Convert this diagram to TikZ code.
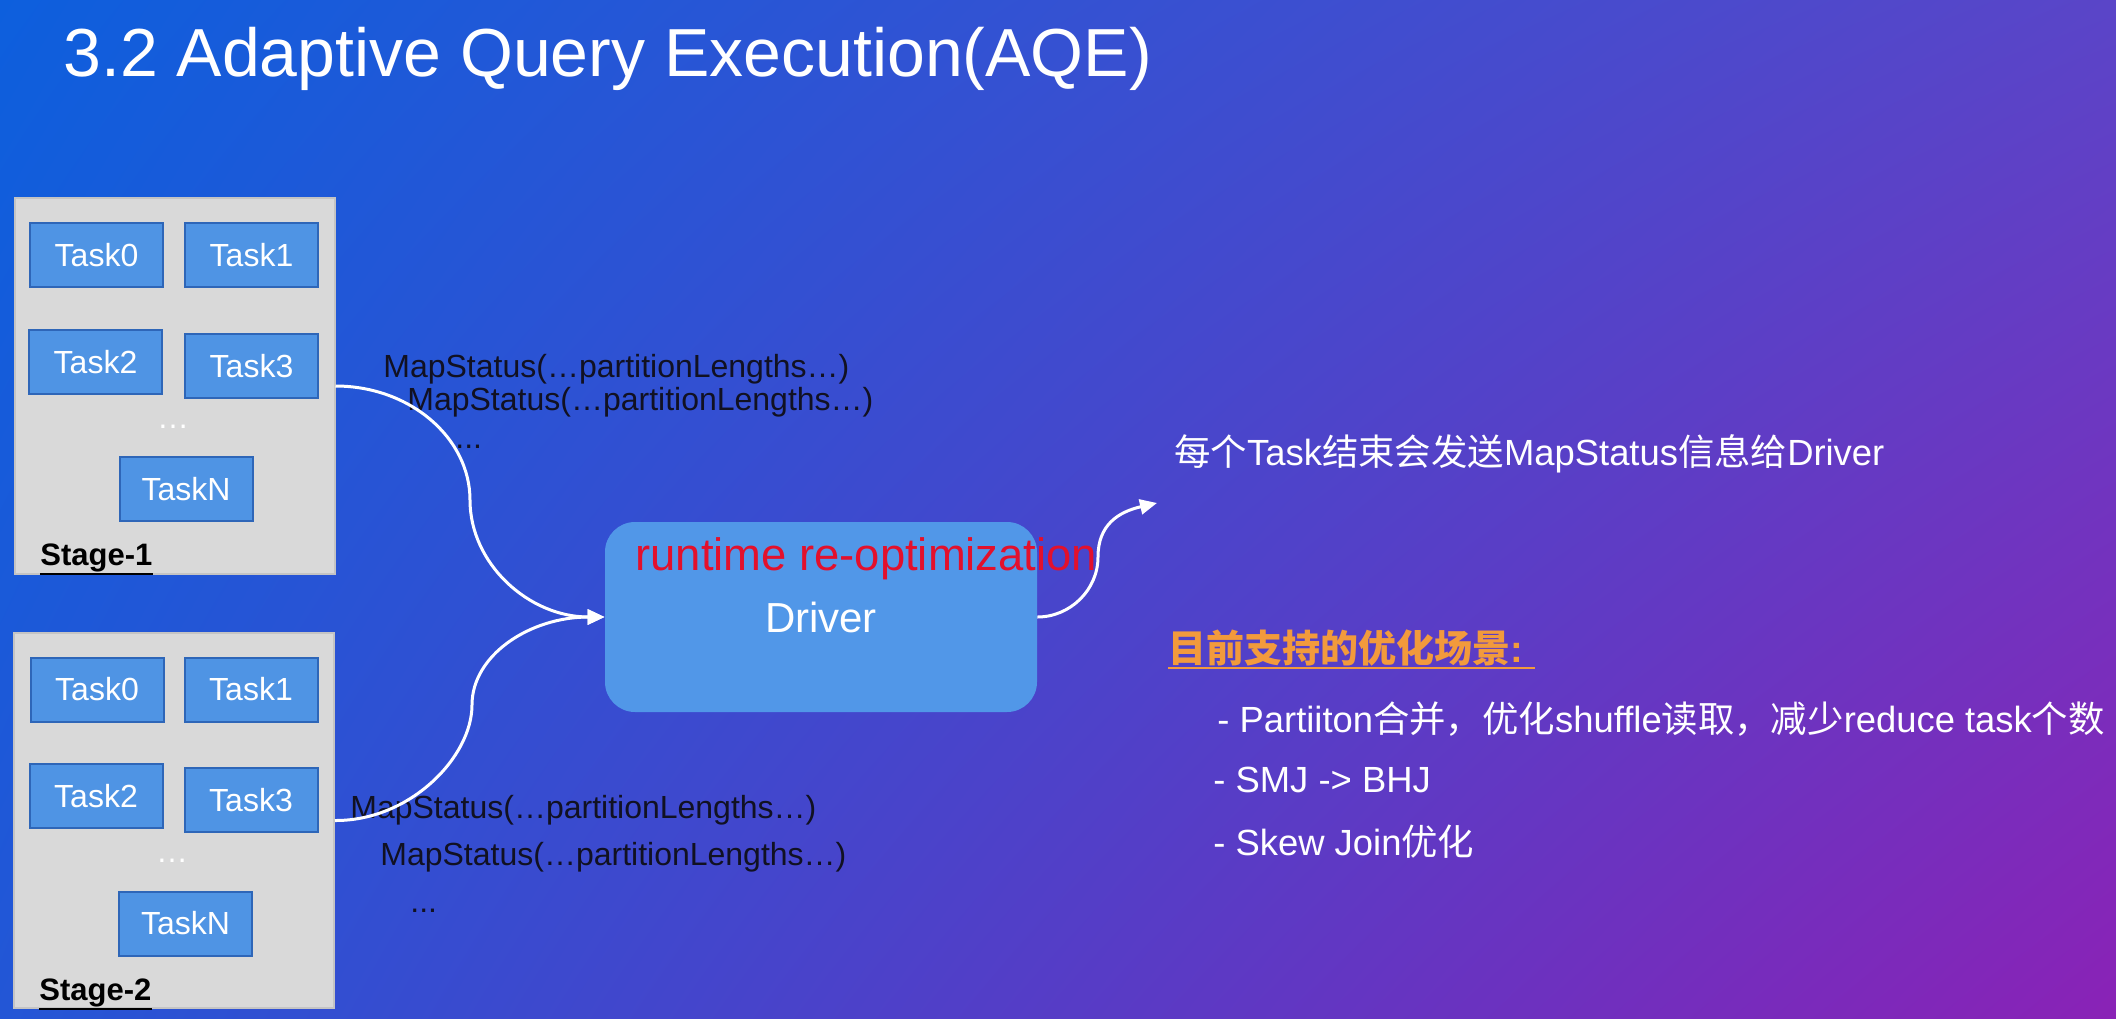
\documentclass[tikz,border=0pt]{standalone}
\usepackage{fontspec}
\setmainfont{Liberation Sans}
\newfontfamily\cjk{Noto Sans CJK SC}
\usetikzlibrary{arrows.meta,shadings}
\definecolor{bgul}{HTML}{0D5FDD}
\definecolor{bgur}{HTML}{5A45C8}
\definecolor{bgll}{HTML}{2356D6}
\definecolor{bglr}{HTML}{8A22B6}
\definecolor{stagefill}{HTML}{D9D9D9}
\definecolor{stageedge}{HTML}{C4C4C4}
\definecolor{taskfill}{HTML}{4F94E4}
\definecolor{taskedge}{HTML}{2E66B8}
\definecolor{drvfill}{HTML}{5197E8}
\definecolor{rtred}{HTML}{E3102C}
\definecolor{headorange}{HTML}{F29A3C}
\definecolor{msblack}{HTML}{111122}
\newcommand\fsz[1]{\fontsize{#1pt}{#1pt}\selectfont}
\begin{document}
\begin{tikzpicture}[x=0.5pt,y=-0.5pt,
  stagebox/.style={draw=stageedge, line width=1pt, fill=stagefill, inner sep=0pt, minimum width=160pt},
  taskbox/.style={draw=taskedge, line width=1pt, fill=taskfill, inner sep=0pt, minimum width=66.5pt, minimum height=32pt, text=white, font=\fsz{16}},
  dotslbl/.style={text=white, font=\fsz{16}, anchor=base, inner sep=0pt},
  stagelbl/.style={font=\fsz{15.5}\bfseries, text=black, anchor=base west, inner sep=0pt},
  ulline/.style={line width=1.3pt},
  mslbl/.style={font=\fsz{16}, text=msblack, anchor=base west, inner sep=0pt},
  drvbox/.style={fill=drvfill, rounded corners=15pt, inner sep=0pt, minimum width=216pt, minimum height=95pt},
  rtlbl/.style={font=\fsz{22.7}, text=rtred, anchor=base west, inner sep=0pt},
  drvlbl/.style={font=\fsz{21}, text=white, anchor=base, inner sep=0pt},
  rtext/.style={font=\fsz{18.2}, text=white, anchor=base west, inner sep=0pt},
  headlbl/.style={font=\fsz{19}\bfseries, text=headorange, anchor=base west, inner sep=0pt},
  flow/.style={draw=white, line width=1.5pt, -{Triangle[length=8.5pt,width=7.5pt]}},
  titlelbl/.style={font=\fsz{34}, text=white, anchor=base west, inner sep=0pt}
]
% background
\shade[upper left=bgul, upper right=bgur, lower left=bgll, lower right=bglr] (0,0) rectangle (2116,1018);
\useasboundingbox (0,0) rectangle (2116,1018);

% title
\node[titlelbl] (title) at (63,76) {3.2 Adaptive Query Execution(AQE)};

% Stage-1
\node[stagebox, minimum height=188pt] (st1) at (174.5,386) {};
\node[taskbox] (s1t0) at (96.5,255) {Task0};
\node[taskbox] (s1t1) at (251.5,255) {Task1};
\node[taskbox] (s1t2) at (95.5,362) {Task2};
\node[taskbox] (s1t3) at (251.5,366) {Task3};
\node[dotslbl] (s1dots) at (173,428) {…};
\node[taskbox] (s1tn) at (186,489) {TaskN};
\node[stagelbl] (s1lbl) at (40,565) {Stage-1};
\draw[ulline] ([yshift=-1pt]s1lbl.south west) -- ([yshift=-1pt]s1lbl.south east);

% Stage-2
\node[stagebox, minimum height=187.5pt] (st2) at (174,820.5) {};
\node[taskbox] (s2t0) at (97,689.5) {Task0};
\node[taskbox] (s2t1) at (251,689.5) {Task1};
\node[taskbox] (s2t2) at (96,796) {Task2};
\node[taskbox] (s2t3) at (251,800) {Task3};
\node[dotslbl] (s2dots) at (172,862) {…};
\node[taskbox] (s2tn) at (185.5,923.5) {TaskN};
\node[stagelbl] (s2lbl) at (39,1000) {Stage-2};
\draw[ulline] ([yshift=-1pt]s2lbl.south west) -- ([yshift=-1pt]s2lbl.south east);

% MapStatus labels
\node[mslbl] (ms1a) at (383,377) {MapStatus(…partitionLengths…)};
\node[mslbl] (ms1b) at (407,410) {MapStatus(…partitionLengths…)};
\node[mslbl] (ms1c) at (455,448) {...};
\node[mslbl] (ms2a) at (350,818) {MapStatus(…partitionLengths…)};
\node[mslbl] (ms2b) at (380,865) {MapStatus(…partitionLengths…)};
\node[mslbl] (ms2c) at (410,912) {...};

% Driver
\node[drvbox] (drv) at (821,617) {};
\node[rtlbl] (rt) at (635,570) {runtime re-optimization};
\node[drvlbl] (drvtxt) at (821,632) {Driver};

% connectors
\coordinate (m1) at (470,500);
\coordinate (m2) at (472,705);
\coordinate (m3) at (1098,557);
\coordinate (outend) at (1157,503);
\draw[flow] (st1.east) .. controls (410,386) and (470,438) .. (m1)
   .. controls (470,564) and (529,617) .. (drv.west);
\draw[flow] (st2.east) .. controls (410,821) and (472,757) .. (m2)
   .. controls (472,655) and (530,617) .. (drv.west);
\draw[flow] (drv.east) .. controls (1070,617) and (1098,590) .. (m3)
   .. controls (1098,525) and (1118,512) .. (outend);

% right texts
\node[rtext] (info) at (1174,465) {{\cjk 每个}Task{\cjk 结束会发送}MapStatus{\cjk 信息给}Driver};
\node[headlbl] (head) at (1168,662) {{\cjk\bfseries 目前支持的优化场景}:};
\draw[ulline, draw=headorange] ([yshift=-1pt]head.south west) -- ([yshift=-1pt,xshift=6pt]head.south east);
\node[rtext] (b1) at (1217,732) {- Partiiton{\cjk 合并，优化}shuffle{\cjk 读取，减少}reduce task{\cjk 个数}};
\node[rtext] (b2) at (1213,792) {- SMJ -> BHJ};
\node[rtext] (b3) at (1213,855) {- Skew Join{\cjk 优化}};
\end{tikzpicture}
\end{document}
